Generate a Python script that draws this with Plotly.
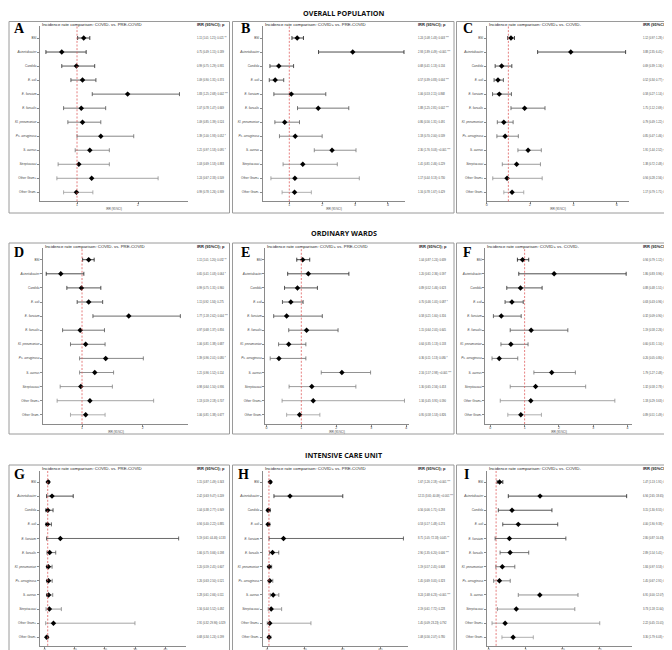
import plotly.graph_objects as go

W, H = 672, 650

categories = ["BSI", "Acinetobacter", "Candida", "E. coli", "E. faecium", "E. faecalis",
              "Kl. pneumoniae", "Ps. aeruginosa", "S. aureus", "Streptococci",
              "Other Gram+", "Other Gram-"]
italic_cats = {"Acinetobacter", "Candida", "E. coli", "E. faecium", "E. faecalis",
               "Kl. pneumoniae", "Ps. aeruginosa", "S. aureus", "Streptococci"}

section_titles = ["OVERALL POPULATION", "ORDINARY WARDS", "INTENSIVE CARE UNIT"]
panel_letters = ["A", "B", "C", "D", "E", "F", "G", "H", "I"]
comparisons = ["COVID- vs. PRE-COVID", "COVID+ vs. PRE-COVID", "COVID+ vs. COVID-"]

# ---- data: IRR, lower CI, upper CI, p ----
A_irr = [1.11, 0.75, 0.99, 1.09, 1.83, 1.07, 1.09, 1.39, 1.21, 1.03, 1.24, 0.99]
A_lo = [1.01, 0.49, 0.75, 0.90, 1.25, 0.78, 0.85, 1.00, 0.97, 0.69, 0.67, 0.78]
A_hi = [1.21, 1.15, 1.29, 1.31, 2.68, 1.47, 1.39, 1.93, 1.53, 1.53, 2.33, 1.26]
A_p = ["0.021", "0.189", "0.931", "0.374", "0.002", "0.669", "0.524", "0.052", "0.095", "0.883", "0.509", "0.939"]

B_irr = [1.24, 2.93, 0.68, 0.57, 1.06, 1.88, 0.86, 1.18, 2.30, 1.41, 1.17, 1.16]
B_lo = [1.08, 1.89, 0.41, 0.39, 0.53, 1.25, 0.56, 0.70, 1.76, 0.81, 0.44, 0.78]
B_hi = [1.43, 4.49, 1.13, 0.83, 2.11, 2.81, 1.31, 2.00, 3.03, 2.46, 3.13, 1.67]
B_p = ["0.003", "<0.001", "0.134", "0.004", "0.868", "0.002", "0.491", "0.539", "<0.001", "0.229", "0.730", "0.429"]

C_irr = [1.12, 3.88, 0.69, 0.52, 0.58, 1.75, 0.79, 0.85, 1.91, 1.38, 0.94, 1.17]
C_lo = [0.97, 2.35, 0.39, 0.34, 0.27, 1.12, 0.49, 0.47, 1.44, 0.72, 0.28, 0.79]
C_hi = [1.28, 6.41, 1.16, 0.77, 1.14, 2.69, 1.22, 1.46, 2.52, 2.48, 2.56, 1.71]
C_p = ["0.127", "<0.001", "0.133", "<0.001", "0.097", "0.010", "0.289", "0.570", "<0.001", "0.265", "0.944", "0.409"]

D_irr = [1.11, 0.65, 0.99, 1.11, 1.77, 0.97, 1.06, 1.39, 1.21, 0.98, 1.13, 1.06]
D_lo = [1.01, 0.41, 0.75, 0.92, 1.18, 0.68, 0.81, 0.96, 0.96, 0.64, 0.59, 0.81]
D_hi = [1.20, 1.03, 1.31, 1.34, 2.62, 1.37, 1.38, 2.01, 1.52, 1.50, 2.18, 1.38]
D_p = ["0.032", "0.064", "0.960", "0.275", "0.004", "0.856", "0.687", "0.080", "0.114", "0.936", "0.707", "0.677"]

E_irr = [1.04, 1.20, 0.89, 0.70, 0.58, 1.15, 0.64, 0.36, 2.16, 1.30, 1.34, 0.95]
E_lo = [0.87, 0.61, 0.52, 0.46, 0.21, 0.64, 0.35, 0.11, 1.57, 0.65, 0.45, 0.58]
E_hi = [1.24, 2.36, 1.46, 1.05, 1.60, 2.05, 1.13, 1.13, 2.98, 2.56, 3.95, 1.53]
E_p = ["0.639", "0.597", "0.623", "0.087", "0.316", "0.645", "0.133", "0.080", "<0.001", "0.453", "0.590", "0.826"]

F_irr = [0.94, 1.86, 0.88, 0.63, 0.32, 1.19, 0.60, 0.26, 1.79, 1.32, 1.18, 0.89]
F_lo = [0.79, 0.83, 0.48, 0.43, 0.09, 0.58, 0.31, 0.05, 1.27, 0.58, 0.29, 0.51]
F_hi = [1.12, 3.96, 1.51, 0.96, 0.90, 2.26, 1.10, 0.80, 2.48, 2.78, 3.63, 1.49]
F_p = ["0.510", "0.106", "0.650", "0.021", "0.016", "0.596", "0.084", "0.007", "<0.001", "0.431", "0.754", "0.681"]

G_irr = [1.15, 2.42, 1.04, 0.94, 5.19, 1.66, 1.20, 1.26, 1.28, 1.56, 2.91, 0.68]
G_lo = [0.87, 0.63, 0.38, 0.40, 0.61, 0.75, 0.59, 0.63, 0.61, 0.44, 0.32, 0.34]
G_hi = [1.49, 9.47, 2.77, 2.22, 44.46, 3.66, 2.45, 2.50, 2.66, 5.52, 29.96, 1.24]
G_p = ["0.343", "0.209", "0.949", "0.885", "0.133", "0.198", "0.607", "0.521", "0.511", "0.492", "0.329", "0.199"]

H_irr = [1.67, 12.15, 0.56, 0.53, 8.71, 2.90, 1.19, 1.45, 3.24, 2.19, 1.45, 1.08]
H_lo = [1.26, 3.65, 0.06, 0.17, 1.05, 1.35, 0.57, 0.69, 1.68, 0.61, 0.09, 0.56]
H_hi = [2.18, 40.09, 1.71, 1.48, 72.18, 6.20, 2.45, 3.05, 6.23, 7.72, 23.23, 2.07]
H_p = ["<0.001", "<0.001", "0.293", "0.274", "0.045", "0.006", "0.608", "0.323", "<0.001", "0.228", "0.792", "0.780"]

I_irr = [1.47, 6.94, 3.15, 4.00, 2.80, 2.89, 1.84, 1.45, 6.91, 3.73, 2.22, 3.30]
I_lo = [1.13, 2.65, 1.30, 1.90, 0.87, 1.54, 0.97, 0.67, 4.00, 1.18, 0.45, 1.79]
I_hi = [1.91, 18.65, 8.55, 9.33, 10.43, 5.41, 3.53, 2.91, 12.07, 11.64, 15.01, 6.03]
I_p = ["0.003", "<0.001", "0.005", "<0.001", "0.059", "<0.001", "0.064", "0.335", "<0.001", "0.004", "0.262", "<0.001"]

panels = [
    (A_irr, A_lo, A_hi, A_p), (B_irr, B_lo, B_hi, B_p), (C_irr, C_lo, C_hi, C_p),
    (D_irr, D_lo, D_hi, D_p), (E_irr, E_lo, E_hi, E_p), (F_irr, F_lo, F_hi, F_p),
    (G_irr, G_lo, G_hi, G_p), (H_irr, H_lo, H_hi, H_p), (I_irr, I_lo, I_hi, I_p),
]

# ---- layout geometry (pixels) ----
box_x = [(1, 221.5), (224.5, 446), (448.5, 670.5)]
box_y = [(13.5, 205), (235, 426), (457, 648.3)]
plot_x = [(32, 180), (254.7, 397.3), (478.7, 621.3),
          (35, 180), (257.3, 400.7), (477.3, 624),
          (31.7, 178.3), (254.7, 400), (478.7, 624)]
text_x = [187, 408, 633, 187, 409, 633, 187, 408, 633]
row_geom = [  # top, bottom, first-row y, spacing
    (18.3, 193.3, 30.0, 14.03),
    (240.0, 416.0, 251.7, 14.1),
    (462.5, 637.8, 474.0, 14.12),
]
xtitle_gap = [7.6, 7.6, 6.9]
x_ranges = [(0.393, 2.82), (0.19, 4.53), (0.0, 6.58),
            (0.357, 2.746), (-0.03, 4.07), (-0.146, 4.13),
            (-1.66, 47.0), (-2.3, 74.6), (-0.27, 19.37)]
x_dticks = [1, 1, 2, 1, 1, 1, 10, 20, 5]
section_y = [5, 225.5, 447]
letter_pos = [(11, 20.5), (237, 20.5), (459.5, 20.5),
              (11, 244.5), (237, 244.5), (459.5, 244.5),
              (11, 466), (236, 466), (458, 466)]

GREY_TXT = "#444444"
AX_COL = "#8a8a8a"
FONT = "Liberation Sans"


def px(x):
    return x / W


def py(y):
    return 1 - y / H


def stars(p):
    v = float(p.replace("<", ""))
    if v < 0.01:
        return " ***"
    if v < 0.05:
        return " **"
    if v < 0.1:
        return " *"
    return ""


tick_text = [f"<i>{c}</i>" if c in italic_cats else c for c in categories]
n = len(categories)
err_cols = []
for i in range(n):
    g = int(20 + 135 * i / (n - 1))
    err_cols.append(f"rgb({g},{g},{g})")

fig = go.Figure()
shapes = []
annotations = []
layout_axes = {}

for k, (irr, lo, hi, p) in enumerate(panels):
    r, c = divmod(k, 3)
    sfx = "" if k == 0 else str(k + 1)
    xa, ya = "x" + sfx, "y" + sfx
    T, B, y0, s = row_geom[r]
    x0p, x1p = plot_x[k]

    for i in range(n):
        fig.add_trace(go.Scatter(
            x=[irr[i]], y=[categories[i]], mode="markers",
            marker=dict(symbol="diamond", size=4.2, color="black"),
            error_x=dict(type="data", symmetric=False,
                         array=[hi[i] - irr[i]], arrayminus=[irr[i] - lo[i]],
                         color=err_cols[i], thickness=0.8, width=2),
            xaxis=xa, yaxis=ya, showlegend=False, hoverinfo="skip"))

    layout_axes["xaxis" + sfx] = dict(
        domain=[px(x0p), px(x1p)], anchor=ya, range=list(x_ranges[k]),
        tick0=0, dtick=x_dticks[k], showgrid=False, zeroline=False,
        showline=True, linecolor=AX_COL, linewidth=0.8,
        ticks="outside", ticklen=2, tickwidth=0.6, tickcolor=AX_COL,
        ticklabelstandoff=-2,
        tickfont=dict(size=3.5, color=GREY_TXT, family=FONT))
    layout_axes["yaxis" + sfx] = dict(
        domain=[py(B), py(T)], anchor=xa, type="category",
        categoryorder="array", categoryarray=categories,
        range=[(B - y0) / s, -(y0 - T) / s],
        tickvals=categories, ticktext=tick_text,
        showgrid=False, zeroline=False,
        showline=True, linecolor=AX_COL, linewidth=0.8,
        ticks="outside", ticklen=2, tickwidth=0.6, tickcolor=AX_COL,
        tickfont=dict(size=3.1, color=GREY_TXT, family=FONT))

    # panel frame
    bx0, bx1 = box_x[c]
    by0, by1 = box_y[r]
    shapes.append(dict(type="rect", xref="paper", yref="paper",
                       x0=px(bx0), x1=px(bx1), y0=py(by1), y1=py(by0),
                       line=dict(color="#9a9a9a", width=1), layer="below"))
    # reference line at IRR = 1
    shapes.append(dict(type="line", xref=xa, yref=ya + " domain", x0=1, x1=1, y0=0, y1=1,
                       line=dict(color="#e06060", width=0.8, dash="2px,1.6px")))

    # panel title & header
    annotations.append(dict(text="Incidence rate comparison: " + comparisons[c],
                            xref="paper", yref="paper", x=px(x0p), y=py(T - 1.6),
                            xanchor="left", yanchor="middle", showarrow=False,
                            font=dict(size=4.3, color="#222222", family=FONT)))
    annotations.append(dict(text="<b>IRR (95%CI); p</b>",
                            xref="paper", yref="paper", x=px(text_x[k]), y=py(T - 1.6),
                            xanchor="left", yanchor="middle", showarrow=False,
                            font=dict(size=4.0, color="#222222", family=FONT)))
    # x axis title
    annotations.append(dict(text="IRR (95%CI)", xref=xa + " domain", yref="paper",
                            x=0.5, y=py(B + xtitle_gap[r]), xanchor="center", yanchor="middle",
                            showarrow=False, font=dict(size=2.8, color=GREY_TXT, family=FONT)))
    # panel letter
    lx, ly = letter_pos[k]
    annotations.append(dict(text="<b>" + panel_letters[k] + "</b>", xref="paper", yref="paper",
                            x=px(lx), y=py(ly), xanchor="center", yanchor="middle",
                            showarrow=False,
                            font=dict(size=14, color="black", family="Liberation Serif")))
    # value column
    for i in range(n):
        label = f"{irr[i]:.2f} ({lo[i]:.2f}; {hi[i]:.2f}); {p[i]}{stars(p[i])}"
        annotations.append(dict(text=label, xref="paper", yref=ya,
                                x=px(text_x[k]), y=categories[i],
                                xanchor="left", yanchor="middle", showarrow=False,
                                font=dict(size=2.6, color=GREY_TXT, family=FONT)))

for j, t in enumerate(section_titles):
    annotations.append(dict(text="<b>" + t + "</b>", xref="paper", yref="paper",
                            x=0.5, y=py(section_y[j]), xanchor="center", yanchor="middle",
                            showarrow=False,
                            font=dict(size=7.2, color="#111111", family="Open Sans")))

fig.update_layout(
    width=W, height=H, margin=dict(l=0, r=0, t=0, b=0),
    paper_bgcolor="white", plot_bgcolor="white",
    shapes=shapes, annotations=annotations, showlegend=False,
    **layout_axes)

fig.write_html("out.html")
